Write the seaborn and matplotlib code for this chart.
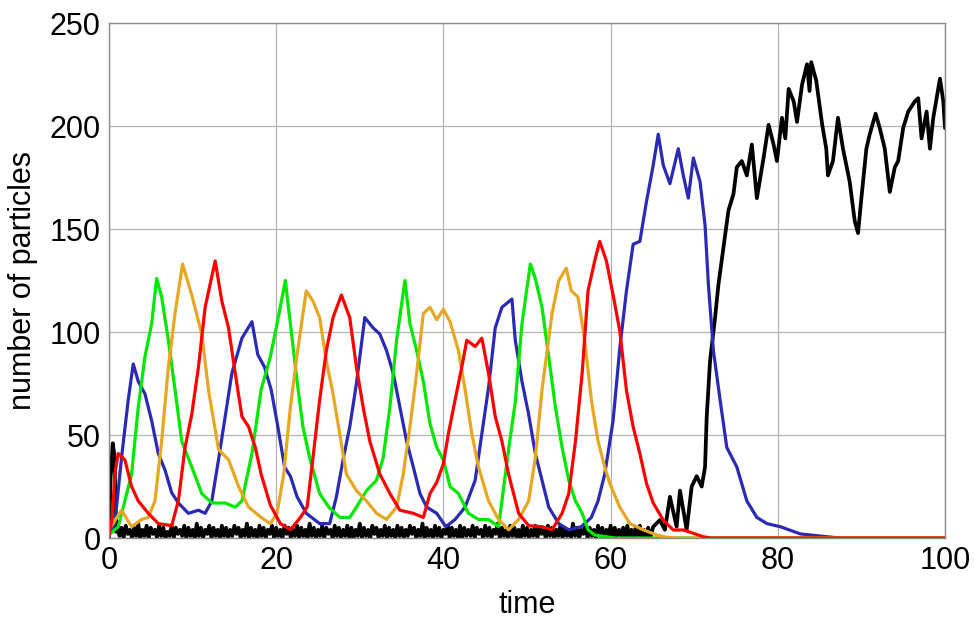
import numpy as np
import pandas as pd
import matplotlib
matplotlib.use("Agg")
import matplotlib.pyplot as plt
import seaborn as sns
from matplotlib.ticker import MultipleLocator

# ---------------- data (time, number of particles) ----------------
blue = [(0, 2), (0.7, 7), (1.5, 39), (2.3, 67), (2.9, 84.5), (3.5, 76), (4.3, 70), (5.1, 57),
        (5.9, 41), (6.7, 33), (7.5, 22), (8.3, 17), (9.5, 12), (10.7, 13.5), (11.5, 12), (12.3, 18),
        (13.1, 38), (13.9, 59), (14.7, 80), (15.9, 97), (17.1, 105), (17.8, 89), (18.6, 83),
        (19.4, 72), (20.2, 54), (21.0, 34.5), (21.7, 30), (22.5, 20), (23.6, 12), (25.2, 7),
        (26.4, 7), (27.2, 20), (28.0, 38), (28.8, 54), (29.6, 75), (30.6, 107), (31.6, 102),
        (32.4, 99), (33.2, 91), (34.0, 80), (34.8, 63.5), (35.6, 47), (36.4, 34.5), (37.2, 21.6),
        (38.0, 15), (39.2, 12), (40.3, 5.5), (41.4, 9), (42.6, 15), (43.8, 28), (44.6, 50.6),
        (45.4, 73), (46.2, 102), (47.0, 112), (48.2, 116), (48.6, 96), (49.4, 76), (50.2, 60),
        (51.0, 41), (51.8, 28), (52.6, 15), (53.8, 7), (55.0, 4), (56.5, 5.5), (57.7, 10),
        (58.5, 18), (59.3, 31), (60.3, 57), (61.1, 92), (61.9, 120), (62.7, 142.6), (63.5, 144),
        (64.3, 163.5), (65.1, 181), (65.7, 196), (66.3, 181), (67.1, 172), (68.1, 189),
        (68.7, 176), (69.3, 165), (69.9, 184.5), (70.7, 173), (71.3, 152), (71.7, 123),
        (72.3, 91), (73.1, 67), (73.9, 44), (75.1, 34.5), (76.3, 18), (77.5, 10), (78.7, 7),
        (80.3, 5.5), (82.7, 2), (85.0, 1), (87.4, 0), (100, 0)]

green = [(0, 1.5), (1.1, 5.5), (1.9, 18), (2.7, 31), (3.5, 63.5), (4.3, 88), (5.1, 104),
         (5.7, 126), (6.3, 117), (7.1, 96), (7.9, 72), (8.7, 47), (9.9, 34.5), (11.1, 21.6),
         (12.3, 17), (13.9, 17), (15.1, 15), (15.9, 18), (17.1, 41), (18.2, 72), (19.3, 88),
         (20.1, 104), (21.1, 125), (21.7, 104), (22.5, 76), (23.2, 54), (24.0, 39), (25.2, 21.6),
         (26.3, 15), (27.6, 10), (28.8, 10), (29.6, 15), (30.8, 23), (32.0, 28), (32.8, 39),
         (33.6, 63.5), (34.4, 96), (35.4, 125), (36.0, 104), (36.8, 91), (37.6, 76), (38.4, 55.5),
         (39.2, 44), (40.0, 38), (40.8, 25), (41.8, 21.6), (43.0, 12), (44.2, 9), (45.4, 9),
         (46.6, 5.5), (47.0, 18), (47.8, 43), (48.6, 66), (49.4, 104), (50.4, 133), (51.0, 126),
         (51.8, 112), (52.6, 88), (53.4, 63.5), (54.2, 44), (55.0, 28), (55.8, 18), (56.6, 12),
         (57.3, 4), (58.1, 1.5), (59.7, 0.5), (60.5, 0), (100, 0)]

orange = [(0, 4), (1.5, 13.5), (2.7, 5.5), (3.9, 9), (4.7, 10), (5.5, 18), (6.3, 47), (7.1, 83),
          (7.9, 109), (8.8, 133), (9.9, 118), (11.1, 99), (11.9, 72), (13.1, 43), (14.3, 38),
          (15.5, 25), (16.7, 15), (18.2, 10), (19.3, 7), (20.1, 12), (20.9, 31), (21.7, 63.5),
          (22.5, 89), (23.6, 120), (24.4, 115), (25.2, 107), (26.0, 86), (26.8, 70), (27.6, 50.6),
          (28.4, 31), (29.6, 23), (30.8, 18), (32.0, 12), (33.2, 9), (34.4, 15), (35.2, 31),
          (36.0, 54), (36.8, 80), (37.6, 109), (38.4, 112), (39.2, 106), (40.0, 111), (40.8, 105),
          (41.8, 91), (42.6, 72), (43.4, 50.6), (44.2, 34.5), (45.4, 18), (46.6, 9), (47.8, 4),
          (49.0, 9), (50.2, 18), (51.0, 39), (51.8, 72), (53.0, 109), (53.8, 125), (54.7, 131),
          (55.3, 120), (56.1, 117), (56.9, 96), (57.7, 67), (58.5, 47), (59.3, 34.5), (59.9, 26.5),
          (61.1, 15), (62.3, 7), (63.9, 4), (65.5, 1.5), (66.5, 0.5), (68, 0), (100, 0)]

red = [(0, 1), (0.4, 10), (0.7, 31), (1.1, 41), (1.9, 38), (2.7, 25), (3.5, 18), (4.7, 12),
       (5.9, 7), (7.5, 6), (8.3, 18), (9.1, 44), (9.9, 60), (10.7, 83), (11.5, 112), (12.7, 134.5),
       (13.5, 115), (14.3, 102), (15.1, 80), (15.9, 59), (16.7, 54), (17.5, 44), (18.2, 31),
       (19.3, 16), (20.5, 7), (21.7, 4), (22.9, 10), (23.7, 15), (24.4, 39), (25.2, 67), (26.0, 91),
       (26.8, 107), (27.8, 118), (28.8, 107), (29.6, 83), (30.4, 63.5), (31.2, 47), (32.4, 31),
       (33.6, 21.6), (34.8, 13.5), (36.4, 12), (37.6, 10), (38.4, 21.6), (39.2, 27), (40.0, 36),
       (40.6, 50.6), (41.4, 67), (42.2, 83), (42.8, 96), (43.8, 93), (44.6, 97), (45.4, 80),
       (46.2, 59), (47.0, 47), (47.8, 31), (49.0, 12), (50.2, 6), (51.8, 5.5), (53.0, 4),
       (54.2, 12), (55.0, 21.6), (55.8, 47), (56.6, 80), (57.3, 120), (58.1, 134.5), (58.7, 144),
       (59.5, 134.5), (60.3, 118), (61.1, 100.6), (61.9, 71.6), (62.7, 54), (63.5, 41),
       (64.3, 26.5), (65.1, 17), (66.3, 8.7), (67.5, 3.9), (68.7, 3.9), (69.9, 2.3), (71.1, 0.6),
       (72, 0), (100, 0)]

# black: initial spike, low noisy band (sampled every 0.25 from t=1), then take-over
black_head = [(0, 0), (0.2, 30), (0.45, 46), (0.65, 40), (0.85, 3)]
black_band_start = 1.0
black_band_step = 0.25
black_band = [8, 1, 5, 0, 6, 2, 4, 0, 5, 1, 7, 0, 4, 1, 6, 0,
              5, 2, 4, 0, 6, 1, 5, 0, 3, 1, 6, 0, 5, 2, 4, 1,
              6, 0, 5, 1, 4, 0, 7, 1, 5, 0, 4, 2, 6, 0, 5, 1,
              4, 0, 6, 1, 5, 0, 4, 1, 6, 2, 5, 0, 4, 1, 7, 0,
              5, 1, 4, 0, 6, 1, 5, 0, 4, 2, 6, 0, 5, 1, 4, 0,
              6, 2, 5, 0, 4, 1, 6, 0, 5, 1, 4, 0, 7, 1, 5, 0,
              4, 1, 6, 0, 5, 2, 4, 0, 6, 1, 5, 0, 4, 1, 6, 0,
              5, 0, 4, 1, 7, 0, 5, 1, 4, 0, 6, 2, 5, 0, 4, 1,
              6, 0, 5, 1, 4, 0, 6, 1, 5, 0, 4, 1, 6, 2, 5, 0,
              4, 1, 7, 0, 5, 1, 4, 0, 6, 1, 5, 0, 4, 2, 6, 0,
              5, 1, 4, 0, 6, 0, 5, 1, 4, 1, 6, 0, 5, 2, 4, 0,
              6, 1, 5, 0, 4, 2, 7, 0, 5, 1, 4, 0, 6, 1, 5, 0,
              4, 0, 6, 1, 5, 0, 4, 1, 6, 0, 5, 2, 4, 0, 6, 1,
              5, 0, 4, 1, 6, 0, 5, 1, 4, 0, 7, 1, 5, 0, 4, 2,
              6, 0, 5, 1, 4, 0, 6, 1, 5, 0, 4, 1, 6, 0, 5, 1,
              4, 1, 5, 0, 6, 1, 4, 0, 5, 1, 6, 0, 4, 1, 5, 0]
black_tail = [(65.1, 5.5), (65.9, 8.7), (66.5, 4), (67.1, 20), (67.9, 5.5), (68.3, 23), (69.1, 4),
              (69.7, 25), (70.3, 30), (70.9, 25), (71.3, 34.5), (71.5, 59), (71.9, 86), (72.5, 107),
              (72.9, 123), (73.5, 141), (74.1, 159), (74.7, 167), (75.1, 180), (75.7, 183),
              (76.3, 176), (76.9, 191), (77.5, 165), (78.3, 184.5), (78.9, 200.6), (79.5, 191),
              (79.9, 183), (80.5, 204), (80.9, 194), (81.3, 218), (81.9, 212), (82.3, 202),
              (82.9, 220), (83.5, 230), (83.8, 217), (84.0, 231), (84.6, 222), (85.3, 201),
              (85.8, 189), (86.0, 176), (86.6, 183), (87.2, 204), (87.8, 189), (88.6, 173),
              (89.2, 154), (89.6, 148), (90.0, 165), (90.6, 189), (91.0, 196), (91.7, 206),
              (92.2, 199), (92.8, 189), (93.4, 168), (94.0, 180), (94.4, 183), (95.0, 199),
              (95.6, 207), (96.4, 212), (96.8, 213.5), (97.2, 194), (97.8, 207), (98.2, 189),
              (98.6, 204), (99.0, 213.5), (99.4, 223), (99.8, 212), (100, 199)]

x_ticks = [0, 20, 40, 60, 80, 100]
y_ticks = [0, 50, 100, 150, 200, 250]

colors = {"blue": "#2a2ab4", "green": "#00e800", "orange": "#e6a822", "red": "#ff0000", "black": "#000000"}
widths = {"blue": 2.3, "green": 2.3, "orange": 2.3, "red": 2.3, "black": 2.7}

# ---------------- assemble ----------------
band_t = black_band_start + black_band_step * np.arange(len(black_band))
black_t = [p[0] for p in black_head] + list(band_t) + [p[0] for p in black_tail]
black_y = [p[1] for p in black_head] + list(black_band) + [p[1] for p in black_tail]

frames = [pd.DataFrame({"time": black_t, "n": black_y, "species": "black"})]
for name, ser in [("blue", blue), ("green", green), ("orange", orange), ("red", red)]:
    frames.append(pd.DataFrame({"time": [p[0] for p in ser], "n": [p[1] for p in ser], "species": name}))

sns.set_style("white")
plt.rcParams["font.family"] = ["Liberation Sans", "DejaVu Sans"]

fig = plt.figure(figsize=(9.74, 6.22), dpi=100)
ax = fig.add_axes([0.1119, 0.135, 0.8583, 0.828])

for df in frames:
    sp = df["species"].iloc[0]
    sns.lineplot(data=df, x="time", y="n", ax=ax, color=colors[sp], linewidth=widths[sp],
                 estimator=None, sort=False, legend=False)

ax.set_xlim(0, 100)
ax.set_ylim(0, 250)
ax.set_xticks(x_ticks)
ax.set_yticks(y_ticks)
ax.yaxis.set_minor_locator(MultipleLocator(10))
ax.xaxis.set_minor_locator(MultipleLocator(5))
ax.grid(True, which="major", color="#b4b4b4", linewidth=0.9)
ax.tick_params(axis="both", which="major", direction="in", length=5, width=0.8,
               color="#999999", labelsize=22, pad=6, labelcolor="black")
ax.tick_params(axis="both", which="minor", direction="in", length=3, width=0.6, color="#aaaaaa")
for s in ax.spines.values():
    s.set_color("#8c8c8c")
    s.set_linewidth(1.0)

ax.set_xlabel("time", fontsize=22, labelpad=10, color="black")
ax.set_ylabel("number of particles", fontsize=22, labelpad=8, color="black")

fig.savefig("out.png", dpi=100)
